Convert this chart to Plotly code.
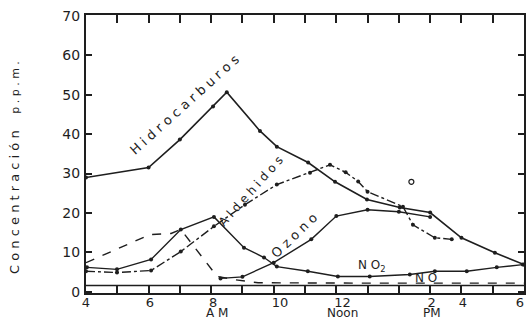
import plotly.graph_objects as go

# ---- data (hour of day, concentration p.p.m.) ----
hc_x = [4.0, 6.0, 7.0, 8.06, 8.5, 9.56, 10.1, 11.1, 11.96, 12.98, 14.03, 15.0, 16.0, 17.07, 18.0]
hc_y = [29.0, 31.5, 38.6, 47.0, 50.6, 40.8, 36.8, 32.8, 27.9, 23.4, 21.4, 20.1, 13.7, 9.9, 6.9]

ald_x = [4.0, 4.99, 6.08, 7.03, 8.09, 9.08, 10.1, 11.16, 11.8, 12.3, 12.7, 13.0, 14.13, 14.45, 15.15, 15.69]
ald_y = [5.2, 4.9, 5.4, 10.2, 16.6, 22.1, 27.2, 30.2, 32.2, 30.3, 28.0, 25.4, 21.6, 17.0, 13.7, 13.3]
ald_extra_x = [14.4]
ald_extra_y = [27.9]

oz_x = [8.3, 9.0, 10.0, 11.2, 12.0, 13.0, 14.0, 15.0]
oz_y = [3.4, 3.8, 7.4, 13.3, 19.2, 20.8, 20.3, 19.0]

no2_x = [4.03, 4.99, 6.08, 7.03, 8.09, 9.05, 9.69, 10.1, 11.09, 12.05, 13.07, 14.35, 15.15, 16.17, 17.13, 17.96]
no2_y = [6.2, 5.7, 8.2, 15.8, 19.0, 11.2, 8.7, 6.4, 5.2, 3.9, 3.9, 4.4, 5.2, 5.2, 6.2, 6.9]

no_x = [4.0, 6.04, 6.72, 7.03, 8.19, 8.73, 9.5, 11.0, 13.0, 15.0, 17.0, 18.0]
no_y = [7.4, 14.5, 14.8, 15.8, 3.9, 3.1, 2.3, 2.2, 2.2, 2.2, 2.2, 2.2]

x_tick_pos = [4, 6.04, 8.06, 10.2, 12.2, 15.05, 16.05, 17.87]
x_tick_txt = ["4", "6", "8", "10", "12", "2", "4", "6"]
period_pos = [8.2, 12.2, 15.05]
period_txt = ["A M", "Noon", "PM"]
y_ticks = [0, 10, 20, 30, 40, 50, 60, 70]

INK = "#1e1e1e"
FONT = "DejaVu Sans"

fig = go.Figure()
fig.add_trace(go.Scatter(x=hc_x, y=hc_y, mode="lines+markers", name="Hidrocarburos",
                         line=dict(color=INK, width=1.6), marker=dict(size=4, color=INK)))
fig.add_trace(go.Scatter(x=ald_x, y=ald_y, mode="lines+markers", name="Aldehidos",
                         line=dict(color=INK, width=1.4, dash="dashdot"), marker=dict(size=4, color=INK)))
fig.add_trace(go.Scatter(x=ald_extra_x, y=ald_extra_y, mode="markers", name="Aldehidos",
                         xaxis="x2", marker=dict(size=5, color="white", line=dict(color=INK, width=1.2))))
fig.add_trace(go.Scatter(x=oz_x, y=oz_y, mode="lines+markers", name="Ozono",
                         line=dict(color=INK, width=1.4), marker=dict(size=4, color=INK)))
fig.add_trace(go.Scatter(x=no2_x, y=no2_y, mode="lines+markers", name="NO2",
                         line=dict(color=INK, width=1.4), marker=dict(size=4, color=INK)))
fig.add_trace(go.Scatter(x=no_x, y=no_y, mode="lines", name="NO",
                         line=dict(color=INK, width=1.4, dash="dash")))

ann_font = dict(family=FONT, size=13, color=INK)
annotations = [
    dict(x=7.16, y=47.4, text="H i d r o c a r b u r o s", textangle=-42, font=ann_font),
    dict(x=9.27, y=25.6, text="A l d e h i d o s", textangle=-48, font=dict(family=FONT, size=12, color=INK)),
    dict(x=10.65, y=14.4, text="O z o n o", textangle=-44, font=ann_font),
    dict(x=13.14, y=6.6, text="N O<sub>2</sub>", font=dict(family=FONT, size=12, color=INK)),
    dict(x=14.87, y=3.4, text="N O", font=dict(family=FONT, size=12, color=INK)),
]
for a in annotations:
    a.update(xref="x", yref="y", showarrow=False)
for px_, t_ in zip(period_pos, period_txt):
    annotations.append(dict(xref="x", yref="paper", x=px_, y=-0.0737, text=t_, showarrow=False,
                            xanchor="center", yanchor="middle",
                            font=dict(family=FONT, size=12, color=INK)))
annotations.append(dict(xref="paper", yref="paper", x=-0.162, y=0.45, showarrow=False,
                        textangle=-90, xanchor="center", yanchor="middle",
                        text="C o n c e n t r a c i ó n    <span style='font-size:11px'>p . p . m .</span>",
                        font=dict(family=FONT, size=13, color=INK)))

fig.update_layout(
    width=526, height=322,
    margin=dict(l=86, r=2, t=15, b=29, pad=0, autoexpand=False),
    paper_bgcolor="white", plot_bgcolor="white",
    showlegend=False,
    annotations=annotations,
    xaxis=dict(range=[4, 18], tickmode="linear", tick0=4, dtick=1, ticks="inside", ticklen=8,
               tickwidth=1.5, tickcolor=INK, showticklabels=False, showline=True, linewidth=2,
               linecolor=INK, mirror="ticks", showgrid=False, zeroline=False, automargin=False),
    xaxis2=dict(range=[4, 18], overlaying="x", matches="x", side="bottom", anchor="y",
                tickmode="array", tickvals=x_tick_pos, ticktext=x_tick_txt, ticks="",
                showline=False, showgrid=False, zeroline=False, automargin=False,
                tickfont=dict(family=FONT, size=13, color=INK)),
    yaxis=dict(range=[-0.3, 70.2], tickmode="array", tickvals=y_ticks, ticks="inside", ticklen=6,
               tickwidth=1.5, tickcolor=INK, showline=True, linewidth=2, linecolor=INK,
               mirror="ticks", showgrid=False, zeroline=False, automargin=False,
               tickfont=dict(family=FONT, size=14, color=INK), ticklabelstandoff=1),
    shapes=[dict(type="line", xref="x", yref="y", x0=4, x1=18, y0=1.6, y1=1.6,
                 line=dict(color=INK, width=1.5))],
)

fig.write_html("out.html", config={"displayModeBar": False},
               post_script="document.body.style.margin='0px';document.body.style.overflow='hidden';")
